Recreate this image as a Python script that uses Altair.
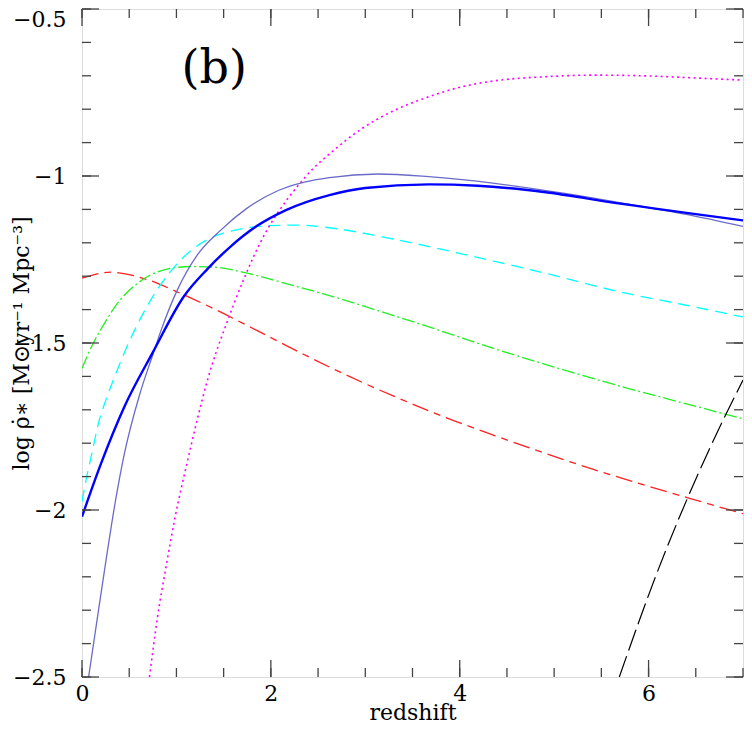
import altair as alt
import pandas as pd

# ---------------- data ----------------
red_x = [0, 0.3, 0.7, 1.0, 1.4, 1.8, 2.2, 2.62, 3.0, 3.4, 3.84, 4.37, 4.89, 5.4, 5.94, 6.41, 6.85, 7.0]
red_y = [-1.306, -1.288, -1.311, -1.346, -1.398, -1.455, -1.513, -1.572, -1.622, -1.671, -1.722, -1.777,
         -1.829, -1.877, -1.924, -1.963, -1.999, -2.011]

green_x = [0, 0.12, 0.26, 0.35, 0.59, 0.87, 1.15, 1.4, 1.75, 2.16, 2.62, 3.1, 3.6, 4.38, 5.0, 5.76, 6.4, 7.0]
green_y = [-1.576, -1.5, -1.431, -1.391, -1.321, -1.281, -1.271, -1.273, -1.291, -1.322, -1.358, -1.40,
           -1.445, -1.518, -1.572, -1.634, -1.682, -1.727]

cyan_x = [0, 0.05, 0.105, 0.17, 0.26, 0.35, 0.47, 0.56, 0.75, 0.94, 1.12, 1.4, 1.64, 1.95, 2.3, 2.62,
          3.32, 4.02, 4.89, 5.76, 6.4, 7.0]
cyan_y = [-1.975, -1.90, -1.83, -1.745, -1.665, -1.598, -1.515, -1.46, -1.361, -1.285, -1.231, -1.181,
          -1.161, -1.149, -1.147, -1.155, -1.19, -1.233, -1.29, -1.351, -1.387, -1.422]

blue_x = [0, 0.2, 0.45, 0.75, 1.08, 1.33, 1.57, 1.85, 2.16, 2.62, 3.0, 3.67, 4.19, 4.89, 5.68, 7.0]
blue_y = [-2.02, -1.862, -1.69, -1.528, -1.36, -1.278, -1.212, -1.15, -1.102, -1.057, -1.036, -1.025,
          -1.029, -1.048, -1.082, -1.133]

slate_x = [0.07, 0.175, 0.26, 0.35, 0.45, 0.61, 0.75, 0.84, 1.01, 1.22, 1.47, 1.745, 2.09, 2.62, 3.14,
           3.67, 4.37, 5.06, 5.7, 6.4, 7.0]
slate_y = [-2.5, -2.30, -2.14, -1.98, -1.83, -1.655, -1.535, -1.46, -1.341, -1.237, -1.162, -1.097, -1.042,
           -1.005, -0.994, -1.002, -1.022, -1.050, -1.08, -1.115, -1.151]

magenta_x = [0.715, 0.80, 0.89, 0.98, 1.12, 1.22, 1.33, 1.43, 1.52, 1.71, 1.92, 2.16, 2.27, 2.44, 2.62,
             2.97, 3.32, 3.67, 4.02, 4.37, 4.89, 5.41, 5.94, 6.46, 7.0]
magenta_y = [-2.5, -2.32, -2.17, -2.03, -1.85, -1.73, -1.61, -1.52, -1.45, -1.311, -1.182, -1.075, -1.035,
             -0.98, -0.934, -0.857, -0.802, -0.763, -0.733, -0.715, -0.703, -0.698, -0.700, -0.706, -0.713]

black_x = [5.69, 6.08, 6.64, 7.0]
black_y = [-2.5, -2.195, -1.82, -1.611]

x_label_values = [0, 2, 4, 6]
y_label_values = [-2.5, -2.0, -1.5, -1.0, -0.5]
x_minor_ticks = [i * 0.5 for i in range(15)]
x_major_ticks = [0, 2, 4, 6]
y_minor_ticks = [round(-2.5 + i * 0.1, 2) for i in range(21)]
y_major_ticks = [-2.5, -2.0, -1.5, -1.0, -0.5]

panel_x = [1.4]
panel_y = [-0.68]
panel_text = ["(b)"]

# ---------------- styling ----------------
W, H = 661, 668
FONT = "DejaVu Serif"
TICK_COLOR = "#444444"
MAJ, MIN = 17, 9

xscale = alt.Scale(domain=[0, 7], nice=False, zero=False)
yscale = alt.Scale(domain=[-2.5, -0.5], nice=False, zero=False)

x_axis = alt.Axis(values=x_label_values, format="~g", ticks=False, domain=False, grid=False,
                  labelFont=FONT, labelFontSize=22, labelColor="black", labelPadding=6,
                  labelFlush=False,
                  title="redshift", titleFont=FONT, titleFontSize=22, titleFontWeight="normal",
                  titleColor="black", titleY=42, titleBaseline="alphabetic")
y_axis = alt.Axis(values=y_label_values, format="~g", ticks=False, domain=False, grid=False,
                  labelFont=FONT, labelFontSize=22, labelColor="black", labelPadding=16,
                  labelFlush=False,
                  labelBaseline={"condition": {"test": "datum.value == -0.5", "value": "top"},
                                 "value": "middle"},
                  title="log ρ̇∗ [M⊙yr⁻¹ Mpc⁻³]", titleFont=FONT, titleFontSize=22,
                  titleFontWeight="normal", titleColor="black",
                  titleX=-61, titleY=H / 2, titleBaseline="middle", titleAngle=-90)


def X(field="x"):
    return alt.X(f"{field}:Q", scale=xscale, axis=x_axis)


def Y(field="y"):
    return alt.Y(f"{field}:Q", scale=yscale, axis=y_axis)


def series(xs, ys):
    return pd.DataFrame({"x": xs, "y": ys})


def line(xs, ys, color, width, dash=None):
    kw = dict(color=color, strokeWidth=width, clip=True, interpolate="monotone")
    if dash:
        kw["strokeDash"] = dash
    return alt.Chart(series(xs, ys)).mark_line(**kw).encode(x=X(), y=Y())


layers = [
    line(red_x, red_y, "#ff2020", 1.3, [17, 6, 7, 6]),
    line(green_x, green_y, "#22ee22", 1.3, [13, 3, 2, 3]),
    line(cyan_x, cyan_y, "#00ffff", 1.3, [12, 7]),
    line(magenta_x, magenta_y, "#ff00ff", 1.6, [2, 3.5]),
    line(black_x, black_y, "#000000", 1.2, [22, 6]),
    line(slate_x, slate_y, "#6a6ac8", 1.3),
    line(blue_x, blue_y, "#0000ff", 2.4),
]

# ticks pointing into the plot, on all four sides
xt_minor = pd.DataFrame({"x": x_minor_ticks})
xt_major = pd.DataFrame({"x": x_major_ticks})
yt_minor = pd.DataFrame({"y": y_minor_ticks})
yt_major = pd.DataFrame({"y": y_major_ticks})

rule = dict(color=TICK_COLOR, strokeWidth=1.3)
for df, ln in [(xt_minor, MIN), (xt_major, MAJ)]:
    layers.append(alt.Chart(df).mark_rule(**rule).encode(x=X(), y=alt.value(H), y2=alt.value(H - ln)))
    layers.append(alt.Chart(df).mark_rule(**rule).encode(x=X(), y=alt.value(0), y2=alt.value(ln)))
for df, ln in [(yt_minor, MIN), (yt_major, MAJ)]:
    layers.append(alt.Chart(df).mark_rule(**rule).encode(y=Y(), x=alt.value(0), x2=alt.value(ln)))
    layers.append(alt.Chart(df).mark_rule(**rule).encode(y=Y(), x=alt.value(W), x2=alt.value(W - ln)))

ann = pd.DataFrame({"x": panel_x, "y": panel_y, "t": panel_text})
layers.append(alt.Chart(ann).mark_text(font=FONT, fontSize=46, color="black", align="center",
                                       baseline="middle").encode(x=X(), y=Y(), text="t:N"))

chart = alt.layer(*layers).properties(
    width=W, height=H,
    autosize=alt.AutoSizeParams(type="none"),
    padding={"left": 74, "top": 1, "right": 1, "bottom": 49},
).configure_view(stroke="#222222", strokeWidth=1.3).configure(background="white")

chart.save("out.html", embed_options={"renderer": "svg", "actions": False})
